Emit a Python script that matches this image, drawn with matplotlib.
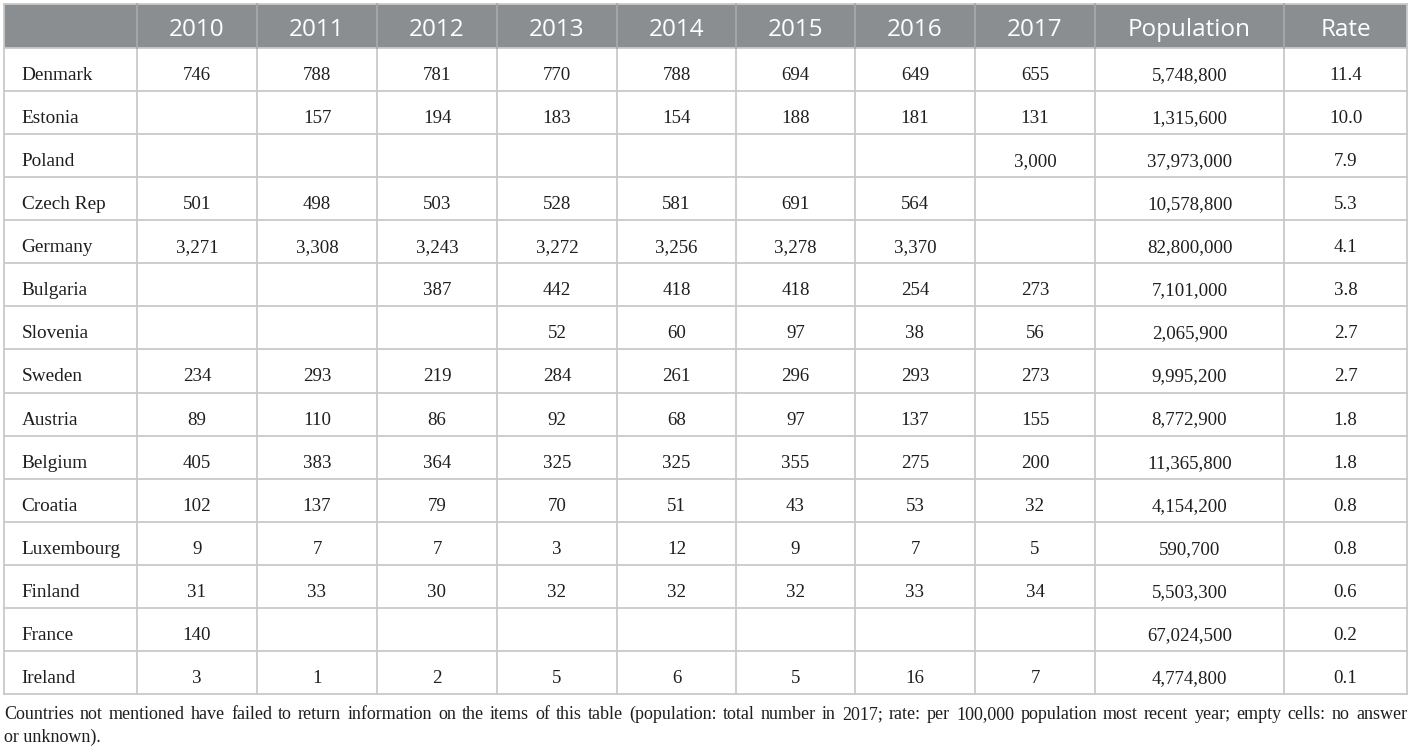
import matplotlib
matplotlib.use("Agg")
import matplotlib.pyplot as plt
from matplotlib.patches import Rectangle

# ----- data -----
columns = ["2010", "2011", "2012", "2013", "2014", "2015", "2016", "2017", "Population", "Rate"]
countries = ["Denmark", "Estonia", "Poland", "Czech Rep", "Germany", "Bulgaria", "Slovenia",
             "Sweden", "Austria", "Belgium", "Croatia", "Luxembourg", "Finland", "France", "Ireland"]
y2010 = ["746", "", "", "501", "3,271", "", "", "234", "89", "405", "102", "9", "31", "140", "3"]
y2011 = ["788", "157", "", "498", "3,308", "", "", "293", "110", "383", "137", "7", "33", "", "1"]
y2012 = ["781", "194", "", "503", "3,243", "387", "", "219", "86", "364", "79", "7", "30", "", "2"]
y2013 = ["770", "183", "", "528", "3,272", "442", "52", "284", "92", "325", "70", "3", "32", "", "5"]
y2014 = ["788", "154", "", "581", "3,256", "418", "60", "261", "68", "325", "51", "12", "32", "", "6"]
y2015 = ["694", "188", "", "691", "3,278", "418", "97", "296", "97", "355", "43", "9", "32", "", "5"]
y2016 = ["649", "181", "", "564", "3,370", "254", "38", "293", "137", "275", "53", "7", "33", "", "16"]
y2017 = ["655", "131", "3,000", "", "", "273", "56", "273", "155", "200", "32", "5", "34", "", "7"]
population = ["5,748,800", "1,315,600", "37,973,000", "10,578,800", "82,800,000", "7,101,000",
              "2,065,900", "9,995,200", "8,772,900", "11,365,800", "4,154,200", "590,700",
              "5,503,300", "67,024,500", "4,774,800"]
rate = ["11.4", "10.0", "7.9", "5.3", "4.1", "3.8", "2.7", "2.7", "1.8", "1.8", "0.8", "0.8",
        "0.6", "0.2", "0.1"]
footnote = ("Countries not mentioned have failed to return information on the items of this table "
            "(population: total number in 2017; rate: per 100,000 population most recent year; "
            "empty cells: no answer or unknown).")
footnote_break = "answer"

value_cols = [y2010, y2011, y2012, y2013, y2014, y2015, y2016, y2017, population, rate]

# ----- layout (pixels) -----
W, H = 1411, 749
col_edges = [4, 137, 257, 377, 497, 617, 736, 855, 975, 1095, 1284, 1407]
top, head_bottom, bottom = 4, 48, 694
grid_c = "#c9c9c9"
head_c = "#8b8e91"
txt_c = "#1e1e1e"
serif = ["Liberation Serif", "DejaVu Serif"]
sans = ["Open Sans", "DejaVu Sans"]

fig = plt.figure(figsize=(W / 100, H / 100), dpi=100)
ax = fig.add_axes([0, 0, 1, 1])
ax.set_xlim(0, W)
ax.set_ylim(H, 0)
ax.axis("off")

# header band
ax.add_patch(Rectangle((col_edges[0], top), col_edges[-1] - col_edges[0], head_bottom - top,
                       facecolor=head_c, edgecolor="none"))

n = len(countries)
row_h = (bottom - head_bottom) / n

# grid lines
ax.plot([col_edges[0], col_edges[-1]], [top, top], color=grid_c, lw=1.3)
for i in range(n + 1):
    y = head_bottom + i * row_h
    ax.plot([col_edges[0], col_edges[-1]], [y, y], color=grid_c, lw=1.3)
for x in col_edges:
    ax.plot([x, x], [head_bottom, bottom], color=grid_c, lw=1.3)
for x in (col_edges[0], col_edges[-1]):
    ax.plot([x, x], [top, head_bottom], color=grid_c, lw=1.3, zorder=3)
# separators inside the gray header
for x in col_edges[1:-1]:
    ax.plot([x, x], [top, head_bottom], color="#a6a9ab", lw=1.3, zorder=2)

# header text
for j, name in enumerate(columns):
    cx = (col_edges[j + 1] + col_edges[j + 2]) / 2
    ax.text(cx, 35.5, name, ha="center", va="baseline",
            color="white", fontsize=17.5, family=sans)

# body
for i, c in enumerate(countries):
    by = head_bottom + i * row_h + 32
    ax.text(col_edges[0] + 17.5, by, c, ha="left", va="baseline", fontsize=13.9,
            family=serif, color=txt_c)
    for j, col in enumerate(value_cols):
        if col[i]:
            cx = (col_edges[j + 1] + col_edges[j + 2]) / 2
            ax.text(cx, by, col[i], ha="center", va="baseline", fontsize=13.6,
                    family=serif, color=txt_c)

# footnote, first line justified
words = footnote.split(" ")
k = words.index(footnote_break) + 1
line1, line2 = words[:k], words[k:]
fig.canvas.draw()
r = fig.canvas.get_renderer()
inv = ax.transData.inverted()
arts = []
for w in line1:
    t = ax.text(0, 719, w, ha="left", va="baseline", fontsize=13, family=serif, color=txt_c)
    arts.append(t)
widths = []
for t in arts:
    bb = t.get_window_extent(renderer=r)
    p0 = inv.transform((bb.x0, 0))[0]
    p1 = inv.transform((bb.x1, 0))[0]
    widths.append(p1 - p0)
x_left, x_right = 4, 1407
gap = (x_right - x_left - sum(widths)) / (len(arts) - 1)
x = x_left
for t, w in zip(arts, widths):
    t.set_x(x)
    x += w + gap
ax.text(4, 742, " ".join(line2), ha="left", va="baseline", fontsize=13, family=serif,
        color=txt_c)

fig.savefig("out.png", dpi=100)
